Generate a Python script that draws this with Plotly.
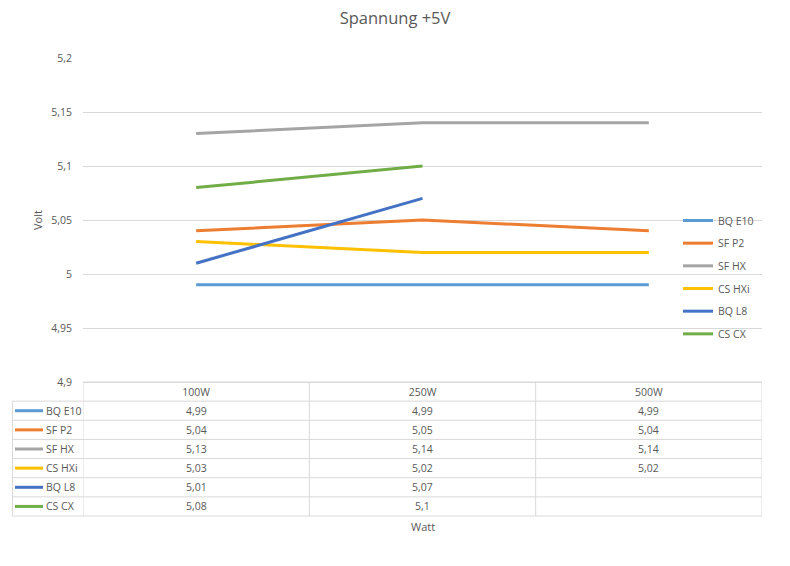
import plotly.graph_objects as go

categories = ["100W", "250W", "500W"]
series_names = ["BQ E10", "SF P2", "SF HX", "CS HXi", "BQ L8", "CS CX"]
bq_e10 = [4.99, 4.99, 4.99]
sf_p2 = [5.04, 5.05, 5.04]
sf_hx = [5.13, 5.14, 5.14]
cs_hxi = [5.03, 5.02, 5.02]
bq_l8 = [5.01, 5.07, None]
cs_cx = [5.08, 5.10, None]
series_values = [bq_e10, sf_p2, sf_hx, cs_hxi, bq_l8, cs_cx]
colors = ["#5B9BD5", "#ED7D31", "#A5A5A5", "#FFC000", "#4472C4", "#70AD47"]
y_tickvals = [4.9, 4.95, 5.0, 5.05, 5.1, 5.15, 5.2]
y_ticktext = ["4,9", "4,95", "5", "5,05", "5,1", "5,15", "5,2"]

W, H = 790, 566
L, R, T, B = 83, 762, 58, 382
FONT = "Open Sans"
GRAY = "#595959"
GRID = "#D9D9D9"


def pxx(px):
    return (px - L) / (R - L)


def pxy(py):
    return (B - py) / (B - T)


def fmt(v):
    if v is None:
        return ""
    s = ("%.2f" % v).rstrip("0").rstrip(".")
    return s.replace(".", ",")


fig = go.Figure()
for i, (name, vals, col) in enumerate(zip(series_names, series_values, colors)):
    fig.add_trace(go.Scatter(
        x=categories, y=vals, name=name, mode="lines",
        line=dict(color=col, width=3), legendgroup="g%d" % i,
        connectgaps=False,
    ))

shapes = []
annotations = []
row_h = (516 - 382) / 7.0
rows = [382 + row_h * k for k in range(8)]

# horizontal borders
shapes.append(dict(type="line", xref="paper", yref="paper", x0=0, x1=1,
                   y0=pxy(rows[0]), y1=pxy(rows[0]), line=dict(color=GRID, width=1)))
for k in range(1, 8):
    shapes.append(dict(type="line", xref="paper", yref="paper", x0=pxx(12.5), x1=1,
                       y0=pxy(rows[k]), y1=pxy(rows[k]), line=dict(color=GRID, width=1)))
# vertical borders
shapes.append(dict(type="line", xref="paper", yref="paper", x0=pxx(12.5), x1=pxx(12.5),
                   y0=pxy(rows[1]), y1=pxy(rows[7]), line=dict(color=GRID, width=1)))
for xb in [-0.5, 0.5, 1.5, 2.5]:
    shapes.append(dict(type="line", xref="x", yref="paper", x0=xb, x1=xb,
                       y0=pxy(rows[0]), y1=pxy(rows[7]), line=dict(color=GRID, width=1)))

# table content
for r, (name, vals, col) in enumerate(zip(series_names, series_values, colors)):
    yc = pxy((rows[r + 1] + rows[r + 2]) / 2)
    shapes.append(dict(type="line", xref="paper", yref="paper", x0=pxx(15), x1=pxx(43),
                       y0=yc, y1=yc, line=dict(color=col, width=3)))
    annotations.append(dict(xref="paper", yref="paper", x=pxx(44), y=yc, text=name,
                            showarrow=False, xanchor="left", yanchor="middle",
                            font=dict(family=FONT, size=10.5, color=GRAY)))
    for c, v in enumerate(vals):
        annotations.append(dict(xref="x", yref="paper", x=c, y=yc, text=fmt(v),
                                showarrow=False, xanchor="center", yanchor="middle",
                                font=dict(family=FONT, size=10.5, color=GRAY)))

annotations.append(dict(xref="paper", yref="paper", x=0.5, y=pxy(526), text="Watt",
                        showarrow=False, xanchor="center", yanchor="middle",
                        font=dict(family=FONT, size=11, color=GRAY)))

fig.update_layout(
    width=W, height=H,
    margin=dict(l=L, r=W - R, t=T, b=H - B),
    paper_bgcolor="white", plot_bgcolor="white",
    separators=",.",
    title=dict(text="Spannung +5V", x=0.5, xanchor="center", y=1 - 18 / H, yanchor="middle",
               font=dict(family=FONT, size=16.5, color=GRAY)),
    font=dict(family=FONT, size=11, color=GRAY),
    showlegend=True,
    legend=dict(x=pxx(678), y=pxy(206), xanchor="left", yanchor="top",
                bgcolor="rgba(0,0,0,0)", tracegroupgap=3.67,
                font=dict(family=FONT, size=10.5, color=GRAY)),
    shapes=shapes,
    annotations=annotations,
)
fig.update_xaxes(
    type="category", range=[-0.5, 2.5], showgrid=False, showline=True,
    linecolor=GRID, linewidth=1, ticks="", side="bottom",
    tickfont=dict(family=FONT, size=10.5, color=GRAY), ticklabelstandoff=0,
    fixedrange=True,
)
fig.update_yaxes(
    range=[4.9, 5.2], tickvals=y_tickvals, ticktext=y_ticktext,
    showgrid=True, gridcolor=GRID, gridwidth=1, zeroline=False, showline=False,
    ticks="", ticklabelstandoff=10,
    tickfont=dict(family=FONT, size=10.5, color=GRAY),
    title=dict(text="Volt", standoff=6, font=dict(family=FONT, size=11, color=GRAY)),
    fixedrange=True,
)

fig.write_html("out.html")
